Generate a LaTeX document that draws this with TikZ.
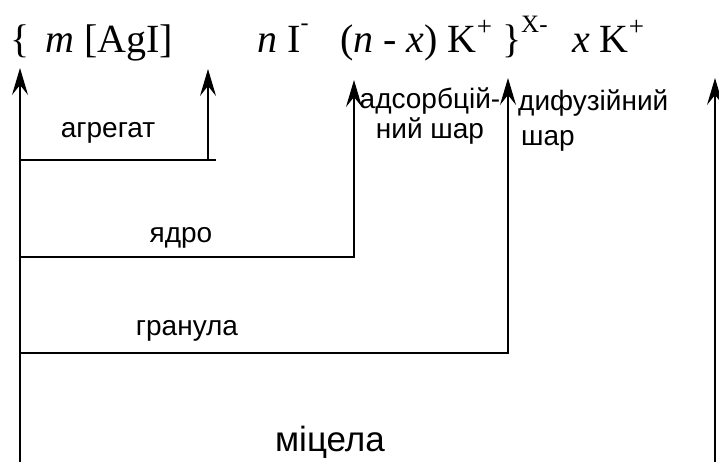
\documentclass[tikz,border=0pt]{standalone}
\usepackage{fontspec}
\setmainfont{Liberation Serif}
\newfontfamily\lab{Liberation Sans}
\usetikzlibrary{arrows.meta}
\tikzset{
  conn/.style={line width=1.2pt, line cap=rect},
  arr/.style={conn, -{Stealth[length=27pt,width=16pt,inset=10pt]}},
  ttl/.style={anchor=base west, inner sep=0pt, font=\fontsize{40}{42}\selectfont},
  lbl/.style={inner sep=0pt, font=\lab\fontsize{28}{30}\selectfont},
  big/.style={inner sep=0pt, font=\lab\fontsize{35}{38}\selectfont}
}
\begin{document}
\begin{tikzpicture}[x=1pt,y=-1pt]
\useasboundingbox (0,0) rectangle (719,461);
% title
\node[ttl] (t1) at (10,52) {\{};
\node[ttl] (t2) at (45,52) {\textit{m} [AgI]};
\node[ttl] (t3) at (257,52) {\textit{n} I\raisebox{0.55em}{\fontsize{24}{24}\selectfont -}};
\node[ttl] (t4) at (340,52) {(\textit{n} - \textit{x}) K\raisebox{0.42em}{\fontsize{27}{27}\selectfont +} \}\raisebox{0.5em}{\fontsize{25}{25}\selectfont X-}};
\node[ttl] (t5) at (572,52) {\textit{x} K\raisebox{0.42em}{\fontsize{27}{27}\selectfont +}};
% coordinates
\coordinate (b0) at (20,461);
\coordinate (p0) at (20,68);
\coordinate (a0) at (20,160);
\coordinate (a1) at (215,160);
\coordinate (a2) at (208,160);
\coordinate (a3) at (208,69);
\coordinate (n0) at (20,257);
\coordinate (n1) at (354,257);
\coordinate (n2) at (354,80);
\coordinate (g0) at (20,353);
\coordinate (g1) at (508,353);
\coordinate (g2) at (508,78);
\coordinate (r0) at (715,461);
\coordinate (r1) at (715,78);
% connectors
\draw[arr] (b0) -- (p0);
\draw[conn] (a0) -- (a1);
\draw[arr] (a2) -- (a3);
\draw[arr] (n0) -- (n1) -- (n2);
\draw[arr] (g0) -- (g1) -- (g2);
\draw[arr] (r0) -- (r1);
% labels
\node[lbl] (l1) at (108,133) {агрегат};
\node[lbl, align=center] (l2) at (430,116) {адсорбцій-\\ний шар};
\node[lbl, anchor=west] (l3) at (518,103) {дифузійний};
\node[lbl, anchor=west] (l4) at (521,141) {шар};
\node[lbl] (l5) at (181,238) {ядро};
\node[lbl] (l6) at (187,331) {гранула};
\node[big] (l7) at (330,442) {міцела};
\end{tikzpicture}
\end{document}
